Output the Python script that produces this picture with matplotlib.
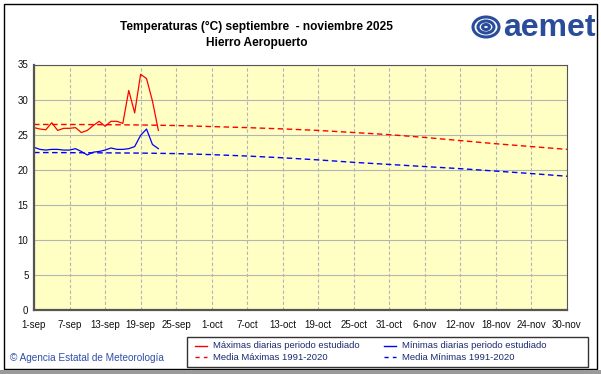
import numpy as np
import matplotlib
matplotlib.use("Agg")
import matplotlib.pyplot as plt
from matplotlib.patches import Rectangle, Ellipse

# daily values 1-sep .. 22-sep 2025
tmax = [26.0, 25.8, 25.7, 26.7, 25.6, 25.9, 25.9, 26.0, 25.3, 25.6, 26.3,
        26.9, 26.2, 26.9, 26.9, 26.6, 31.3, 28.1, 33.6, 33.0, 29.8, 25.6]
tmin = [23.2, 22.9, 22.8, 22.9, 22.9, 22.8, 22.8, 23.0, 22.6, 22.1, 22.5,
        22.6, 22.8, 23.1, 22.9, 22.9, 23.0, 23.3, 24.9, 25.8, 23.6, 23.0]

# climatological normals 1991-2020, read at each tick date
norm_max = [26.45, 26.45, 26.42, 26.38, 26.3, 26.15, 26.0, 25.82, 25.6,
            25.3, 25.0, 24.6, 24.15, 23.7, 23.3, 22.9]
norm_min = [22.45, 22.43, 22.4, 22.37, 22.3, 22.15, 21.95, 21.7, 21.4,
            21.05, 20.75, 20.45, 20.15, 19.8, 19.45, 19.07]

tick_labels = ["1-sep", "7-sep", "13-sep", "19-sep", "25-sep", "1-oct",
               "7-oct", "13-oct", "19-oct", "25-oct", "31-oct", "6-nov",
               "12-nov", "18-nov", "24-nov", "30-nov"]

font = "Liberation Sans"
plt.rcParams["font.family"] = [font, "DejaVu Sans"]

fig = plt.figure(figsize=(6.01, 3.74), dpi=100)
W, H = 601, 374

def fx(px):
    return px / W

def fy(py):
    return 1 - py / H

# outer frame
fig.patches.append(Rectangle((fx(4), fy(369)), fx(593), 365 / H, transform=fig.transFigure,
                             fill=False, edgecolor="black", lw=1.0))
fig.patches.append(Rectangle((0, 0), 1, fy(370), transform=fig.transFigure,
                             facecolor="#9a9a9a", edgecolor="none"))

ax = fig.add_axes([fx(34), fy(310), fx(533), (310 - 64.5) / H])
ax.set_facecolor("#FFFFC4")

days = np.arange(len(tmax))
tick_days = np.arange(0, 91, 6)

ax.plot(tick_days, norm_max, color="red", lw=1.0, ls=(0, (4, 2.5)))
ax.plot(tick_days, norm_min, color="blue", lw=1.0, ls=(0, (4, 2.5)))
ax.plot(days, tmax, color="red", lw=0.9)
ax.plot(days, tmin, color="blue", lw=0.9)

ax.set_xlim(0, 90)
ax.set_ylim(0, 35)
ax.set_xticks(tick_days)
ax.set_xticklabels(tick_labels)
ax.set_yticks(np.arange(0, 36, 5))
ax.tick_params(length=0, labelsize=7, colors="#111111", pad=7)
ax.tick_params(axis="y", pad=4)
ax.grid(axis="x", color="#b4b4b4", lw=0.8, ls=(0, (3, 2)))
ax.grid(axis="y", color="#b4b4b4", lw=0.8, ls="-")
ax.set_axisbelow(True)
for s in ax.spines.values():
    s.set_color("#555555")
ax.spines["left"].set_linewidth(1.6)
ax.spines["bottom"].set_linewidth(1.6)

# titles
fig.text(fx(256), fy(27), "Temperaturas (°C) septiembre  - noviembre 2025", ha="center",
         va="center", fontsize=8.6, fontweight="bold")
fig.text(fx(257), fy(43), "Hierro Aeropuerto", ha="center", va="center",
         fontsize=8.6, fontweight="bold")

# logo
logo_blue = "#2a4d9b"
fig.text(fx(503), fy(28), "aemet", ha="left", va="center", fontsize=23,
         fontweight="bold", color=logo_blue)
for (cx, cy, w, h) in [(486, 27, 26, 20), (486, 27, 16, 12), (486, 27, 7, 5)]:
    fig.patches.append(Ellipse((fx(cx), fy(cy)), fx(w), h / H, transform=fig.transFigure,
                               fill=False, edgecolor=logo_blue, lw=2.2))

# footer
fig.text(fx(10), fy(358), "© Agencia Estatal de Meteorología", ha="left", va="center",
         fontsize=7.2, color="#2f4fa8")

# legend
legend_box = Rectangle((fx(187), fy(367)), fx(401), 30 / H, transform=fig.transFigure,
                       facecolor="white", edgecolor="#333333", lw=1.0)
fig.patches.append(legend_box)
entries = [("Máximas diarias periodo estudiado", "red", "-", 195, 346),
           ("Media Máximas 1991-2020", "red", (0, (3, 3)), 195, 357),
           ("Mínimas diarias periodo estudiado", "blue", "-", 384, 346),
           ("Media Mínimas 1991-2020", "blue", (0, (3, 3)), 384, 357)]
for label, col, style, x0, y0 in entries:
    fig.add_artist(plt.Line2D([fx(x0), fx(x0 + 12)], [fy(y0), fy(y0)], color=col,
                              ls=style, lw=1.0, transform=fig.transFigure))
    fig.text(fx(x0 + 18), fy(y0), label, ha="left", va="center", fontsize=6.8,
             color="#1a2a70")

fig.savefig("out.png", dpi=100)
